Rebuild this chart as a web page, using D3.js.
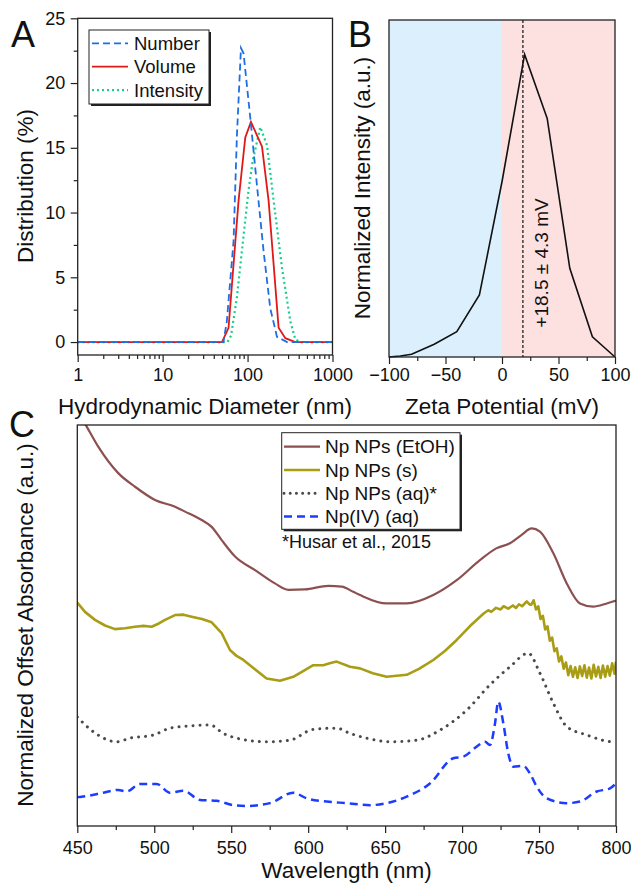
<!DOCTYPE html>
<html>
<head>
<meta charset="utf-8">
<script src="https://cdn.jsdelivr.net/npm/d3@7"></script>
<style>
body { margin: 0; background: #fff; }
text { font-family: Arial, "Liberation Sans", sans-serif; fill: #111; }
</style>
</head>
<body>
<div id="chart"></div>
<script>
/* ---------------------- */
/* DATA */
/* ---------------------- */

// A : DLS size distribution (diameter in nm, %)
var numberD   = [1, 52, 57, 68.4, 75, 83.6, 89.7, 107.7, 129, 154.5, 185, 222, 292, 1000];
var numberPct = [0, 0, 1.6, 7.8, 16.0, 22.7, 22.3, 17.3, 12.1, 7.0, 2.6, 0.4, 0, 0];
var volumeD   = [1, 50, 59.7, 78.3, 94, 109.6, 147.8, 177, 232, 278.5, 365, 1000];
var volumePct = [0, 0, 1.1, 10.9, 15.8, 17.0, 15.1, 10.9, 1.1, 0.3, 0, 0];
var intensD   = [1, 58, 64, 75, 90, 103, 115, 141.3, 169.4, 202.8, 254.7, 319, 365, 420, 1000];
var intensPct = [0, 0, 0.5, 3.5, 8.3, 11.8, 14.0, 16.6, 15.2, 10.9, 5.7, 1.6, 0.2, 0, 0];
var dlsNames  = ["Number", "Volume", "Intensity"];
var sizeTicks = [1, 10, 100, 1000];
var pctTicks  = [0, 5, 10, 15, 20, 25];

// B : zeta potential distribution
var zetaMv  = [-100, -90, -80, -60, -40, -20, 0, 20, 40, 60, 80, 100];
var zetaInt = [0, 0.003, 0.008, 0.038, 0.075, 0.184, 0.52, 0.898, 0.708, 0.263, 0.06, 0];
var zetaTicks = [-100, -50, 0, 50, 100];
var zetaMinor = [-75, -25, 25, 75];
var zetaMean = 18.5;
var zetaLabel = "+18.5 \u00b1 4.3 mV";

// C : absorbance spectra (offset, a.u.)
var ethWl  = [450, 456.1, 463.6, 476.6, 487.5, 500.5, 513.5, 520, 530.8, 537.3, 543.8, 552.5, 565.5, 578.4, 587.1, 597.9, 613.1, 621.8, 629.3, 633.7, 651, 664, 681.3, 696.5, 711.6, 722.5, 731.1, 738.7, 745.2, 750.6, 759.3, 768, 776.6, 785.2, 794, 800];
var ethAbs = [103.5, 99.6, 94.6, 88.0, 84.6, 81.3, 79.6, 78.4, 76.3, 74.6, 71.3, 67.2, 63.8, 60.5, 58.9, 59.0, 59.9, 59.7, 58.4, 57.6, 55.5, 55.5, 57.6, 61.3, 66.3, 69.3, 70.5, 72.6, 74.2, 73.4, 68.0, 60.5, 55.5, 54.7, 55.5, 56.2];

var solidWl  = [450, 455, 461.5, 468, 474.5, 481, 487.5, 493, 498.3, 503, 507, 513.5, 519, 524.3, 531, 537.3, 543.8, 549.2, 553.5, 557.9, 565, 573, 581.7, 590.3, 597, 603.3, 609.8, 614, 618.5, 627.2, 633.7, 642, 651, 664, 672, 681.3, 689, 696.5, 705, 714, 717, 719, 722, 725, 727, 730, 733, 735, 737, 739, 742, 744, 745, 746.5, 748, 749.5, 751, 752.5, 754, 755.5, 757, 758.5, 760, 761.5, 763, 764.5, 766, 767.5, 769, 770.5, 772, 773.5, 775, 776.5, 778, 779.5, 781, 782.5, 784, 785.5, 787, 788.5, 790, 791.5, 793, 794.5, 796, 797.5, 799, 800];
var solidAbs = [55.7, 53.4, 51.4, 50.0, 49.1, 49.3, 49.7, 49.9, 49.7, 50.5, 51.4, 52.6, 52.7, 52.2, 51.6, 50.8, 48.1, 43.9, 42.4, 41.4, 39.2, 36.8, 36.2, 37.2, 38.7, 40.1, 40.1, 40.6, 41.0, 39.7, 39.3, 38.1, 37.2, 37.7, 39.2, 41.4, 43.7, 46.4, 49.8, 53.0, 53.8, 53.4, 54.4, 54.0, 54.8, 54.2, 55.0, 54.4, 55.3, 54.8, 56.0, 55.2, 55.2, 56.3, 54.0, 54.8, 51.6, 52.4, 49.0, 49.8, 46.2, 47.0, 43.6, 44.3, 41.0, 42.3, 39.2, 40.8, 37.6, 39.9, 37.2, 39.6, 36.9, 39.8, 37.4, 40.1, 37.0, 39.5, 36.8, 40.2, 37.3, 39.7, 36.9, 40.0, 37.2, 39.9, 37.5, 40.6, 38.0, 41.0];

var aqWl  = [450, 460.4, 475.6, 484.2, 499.4, 510.2, 521.1, 536.2, 544.9, 560.1, 573, 588.2, 603.3, 618.5, 627.2, 638, 653.2, 670.5, 685.6, 703, 718.1, 731.1, 743, 750.6, 759.3, 768, 781, 798.2, 800];
var aqAbs = [27.2, 23.5, 21.0, 21.9, 22.7, 24.4, 24.9, 25.2, 23.1, 21.4, 21.0, 21.4, 24.1, 24.4, 23.1, 21.9, 21.0, 21.4, 23.9, 28.9, 35.2, 39.7, 43.1, 38.1, 30.6, 24.8, 22.7, 21.0, 21.0];

var ivWl  = [450, 452.9, 466.9, 476.6, 482.1, 490.7, 501.6, 510.2, 518.9, 529.7, 540.6, 551.4, 560.1, 575.2, 590.3, 599, 612, 625, 640.2, 651, 664, 679.1, 694.3, 700.8, 709.5, 714.9, 718.1, 721.4, 723.5, 726.8, 730, 733.3, 739.8, 744.1, 748.5, 755, 768, 776.6, 787.5, 796.1, 800];
var ivAbs = [7.2, 7.3, 8.3, 9.0, 8.6, 10.5, 10.5, 8.3, 8.8, 6.5, 6.3, 5.2, 5.0, 5.7, 8.3, 6.9, 6.1, 5.7, 5.2, 5.7, 7.3, 10.6, 16.9, 17.3, 19.8, 21.0, 20.2, 25.6, 31.0, 25.6, 18.1, 14.8, 15.0, 13.1, 9.8, 6.9, 5.7, 6.1, 8.6, 9.4, 10.6];

var specNames = ["Np NPs (EtOH)", "Np NPs (s)", "Np NPs (aq)*", "Np(IV) (aq)"];
var wlTicks = [450, 500, 550, 600, 650, 700, 750, 800];
var wlMinor = [475, 525, 575, 625, 675, 725, 775];

/* ---------------------- */
/* SETUP */
/* ---------------------- */
var width = 631,
    height = 884;

var svg = d3.select("#chart").append("svg")
    .attr("width", width)
    .attr("height", height);

function styleAxis(g, fontSize) {
  g.select(".domain").remove();
  g.selectAll("line").attr("stroke", "#222").attr("stroke-width", 1.2);
  g.selectAll("text")
    .attr("font-family", null)
    .style("font-size", fontSize + "px")
    .attr("fill", "#111");
}

function frame(x0, y0, x1, y1) {
  svg.append("rect")
    .attr("x", x0).attr("y", y0)
    .attr("width", x1 - x0).attr("height", y1 - y0)
    .attr("fill", "none")
    .attr("stroke", "#222")
    .attr("stroke-width", 1.3);
}

function panelLetter(txt, x, y) {
  svg.append("text").attr("x", x).attr("y", y)
    .style("font-size", "36px").text(txt);
}

function yTitle(txt, x, y) {
  svg.append("text")
    .attr("transform", "translate(" + x + "," + y + ") rotate(-90)")
    .attr("text-anchor", "middle")
    .style("font-size", "22.5px")
    .text(txt);
}

function xTitle(txt, x, y) {
  svg.append("text").attr("x", x).attr("y", y)
    .attr("text-anchor", "middle")
    .style("font-size", "22.5px")
    .text(txt);
}

function legendBox(x, y, w, h) {
  svg.append("rect").attr("x", x + 2).attr("y", y + 2)
    .attr("width", w).attr("height", h).attr("fill", "#222");
  svg.append("rect").attr("x", x).attr("y", y)
    .attr("width", w).attr("height", h)
    .attr("fill", "#fff").attr("stroke", "#222").attr("stroke-width", 1);
}

/* ---------------------- */
/* PANEL A */
/* ---------------------- */
var aL = 77.7, aR = 332.5, aT = 18.3, aB = 355;
var xA = d3.scaleLog().domain([1, 1000]).range([aL, aR]);
var yA = d3.scaleLinear().domain([-1, 25]).range([aB, aT]);

var sizeMinor = [];
[1, 10, 100].forEach(function(dec) {
  for (var k = 2; k < 10; k++) sizeMinor.push(dec * k);
});
var pctMinor = [2.5, 7.5, 12.5, 17.5, 22.5];

svg.append("g").attr("transform", "translate(0," + aB + ")")
  .call(d3.axisBottom(xA).tickValues(sizeMinor).tickSize(4).tickFormat(""))
  .call(styleAxis, 18);
svg.append("g").attr("transform", "translate(0," + aB + ")")
  .call(d3.axisBottom(xA).tickValues(sizeTicks).tickSize(7).tickPadding(6.5).tickFormat(d3.format("d")))
  .call(styleAxis, 18);
svg.append("g").attr("transform", "translate(" + aL + ",0)")
  .call(d3.axisLeft(yA).tickValues(pctMinor).tickSize(4).tickFormat(""))
  .call(styleAxis, 18);
svg.append("g").attr("transform", "translate(" + aL + ",0)")
  .call(d3.axisLeft(yA).tickValues(pctTicks).tickSize(7).tickPadding(5.5))
  .call(styleAxis, 18);

var dlsSeries = [
  {name: dlsNames[0], x: numberD, y: numberPct, color: "#1f6fe3", dash: "7,4", w: 1.8},
  {name: dlsNames[1], x: volumeD, y: volumePct, color: "#e01818", dash: null, w: 1.8},
  {name: dlsNames[2], x: intensD, y: intensPct, color: "#14d088", dash: "2,3", w: 2.2}
];

var lineA = d3.line().x(d => xA(d[0])).y(d => yA(d[1]));

// draw intensity first, number on top like the original
[2, 1, 0].forEach(function(i) {
  var s = dlsSeries[i];
  svg.append("path")
    .datum(d3.zip(s.x, s.y))
    .attr("d", lineA)
    .attr("fill", "none")
    .attr("stroke", s.color)
    .attr("stroke-width", s.w)
    .attr("stroke-dasharray", s.dash);
});

frame(aL, aT, aR, aB);

legendBox(89, 30, 120, 74);
dlsSeries.forEach(function(s, i) {
  var ly = 43.3 + i * 23.4;
  svg.append("line")
    .attr("x1", 92).attr("x2", 128).attr("y1", ly).attr("y2", ly)
    .attr("stroke", s.color).attr("stroke-width", s.w)
    .attr("stroke-dasharray", s.dash);
  svg.append("text").attr("x", 134).attr("y", ly)
    .attr("dominant-baseline", "central")
    .style("font-size", "18.5px").text(s.name);
});

panelLetter("A", 11, 47);
yTitle("Distribution (%)", 33, 186);
xTitle("Hydrodynamic Diameter (nm)", 205, 414);

/* ---------------------- */
/* PANEL B */
/* ---------------------- */
var bL = 389, bR = 615, bT = 20, bB = 357;
var xB = d3.scaleLinear().domain([-100, 100]).range([bL, bR]);
var yB = d3.scaleLinear().domain([0, 1]).range([bB, bT]);

svg.append("rect")
  .attr("x", xB(-100)).attr("y", bT)
  .attr("width", xB(0) - xB(-100)).attr("height", bB - bT)
  .attr("fill", "#dbf0fc");
svg.append("rect")
  .attr("x", xB(0)).attr("y", bT)
  .attr("width", xB(100) - xB(0)).attr("height", bB - bT)
  .attr("fill", "#fde0e0");

svg.append("line")
  .attr("x1", xB(zetaMean)).attr("x2", xB(zetaMean))
  .attr("y1", bT).attr("y2", bB)
  .attr("stroke", "#111").attr("stroke-width", 1.2)
  .attr("stroke-dasharray", "3,2");

svg.append("path")
  .datum(d3.zip(zetaMv, zetaInt))
  .attr("d", d3.line().x(d => xB(d[0])).y(d => yB(d[1])))
  .attr("fill", "none")
  .attr("stroke", "#111")
  .attr("stroke-width", 1.6);

svg.append("g").attr("transform", "translate(0," + bB + ")")
  .call(d3.axisBottom(xB).tickValues(zetaMinor).tickSize(4).tickFormat(""))
  .call(styleAxis, 18);
svg.append("g").attr("transform", "translate(0," + bB + ")")
  .call(d3.axisBottom(xB).tickValues(zetaTicks).tickSize(7).tickPadding(4.5)
    .tickFormat(d => d < 0 ? "\u2212" + Math.abs(d) : d))
  .call(styleAxis, 18);

frame(bL, bT, bR, bB);

svg.append("text")
  .attr("transform", "translate(548," + 263 + ") rotate(-90)")
  .attr("text-anchor", "middle")
  .style("font-size", "19px")
  .text(zetaLabel);

panelLetter("B", 348, 47);
yTitle("Normalized Intensity (a.u.)", 370, 188);
xTitle("Zeta Potential (mV)", 502, 414);

/* ---------------------- */
/* PANEL C */
/* ---------------------- */
var cL = 77.3, cR = 616, cT = 425, cB = 826;
var xC = d3.scaleLinear().domain([450, 800]).range([cL, cR]);
var yC = d3.scaleLinear().domain([0, 100]).range([cB, cT]);

svg.append("clipPath").attr("id", "clipC")
  .append("rect").attr("x", cL).attr("y", cT)
  .attr("width", cR - cL).attr("height", cB - cT);

var specSeries = [
  {name: specNames[0], x: ethWl, y: ethAbs, color: "#8c5050", dash: null, w: 2.2, cap: "butt", curve: d3.curveMonotoneX},
  {name: specNames[1], x: solidWl, y: solidAbs, color: "#a99d16", dash: null, w: 2.6, cap: "butt", curve: d3.curveLinear},
  {name: specNames[2], x: aqWl, y: aqAbs, color: "#4a4a4a", dash: "0.01,7", w: 3, cap: "round", curve: d3.curveMonotoneX},
  {name: specNames[3], x: ivWl, y: ivAbs, color: "#1c3cff", dash: "8,5", w: 2.5, cap: "butt", curve: d3.curveMonotoneX}
];

var gC = svg.append("g").attr("clip-path", "url(#clipC)");
specSeries.forEach(function(s) {
  var lineC = d3.line().curve(s.curve).x(d => xC(d[0])).y(d => yC(d[1]));
  gC.append("path")
    .datum(d3.zip(s.x, s.y))
    .attr("d", lineC)
    .attr("fill", "none")
    .attr("stroke", s.color)
    .attr("stroke-width", s.w)
    .attr("stroke-linecap", s.cap)
    .attr("stroke-linejoin", "round")
    .attr("stroke-dasharray", s.dash);
});

svg.append("g").attr("transform", "translate(0," + cB + ")")
  .call(d3.axisBottom(xC).tickValues(wlMinor).tickSize(4).tickFormat(""))
  .call(styleAxis, 18);
svg.append("g").attr("transform", "translate(0," + cB + ")")
  .call(d3.axisBottom(xC).tickValues(wlTicks).tickSize(7).tickPadding(8.5))
  .call(styleAxis, 18);

frame(cL, cT, cR, cB);

legendBox(281.7, 432.7, 178.3, 96.6);
specSeries.forEach(function(s, i) {
  var ly = 446.7 + i * 23.3;
  svg.append("line")
    .attr("x1", 284).attr("x2", 320).attr("y1", ly).attr("y2", ly)
    .attr("stroke", s.color).attr("stroke-width", s.w)
    .attr("stroke-linecap", s.cap)
    .attr("stroke-dasharray", s.dash == "0.01,7" ? "0.01,6.2" : s.dash);
  svg.append("text").attr("x", 325).attr("y", ly)
    .attr("dominant-baseline", "central")
    .style("font-size", "19px").text(s.name);
});
svg.append("text").attr("x", 282).attr("y", 542)
  .attr("dominant-baseline", "central")
  .style("font-size", "18px").text("*Husar et al., 2015");

panelLetter("C", 9, 437);
yTitle("Normalized Offset Absorbance (a.u.)", 33, 625);
xTitle("Wavelength (nm)", 346.6, 878);
</script>
</body>
</html>
